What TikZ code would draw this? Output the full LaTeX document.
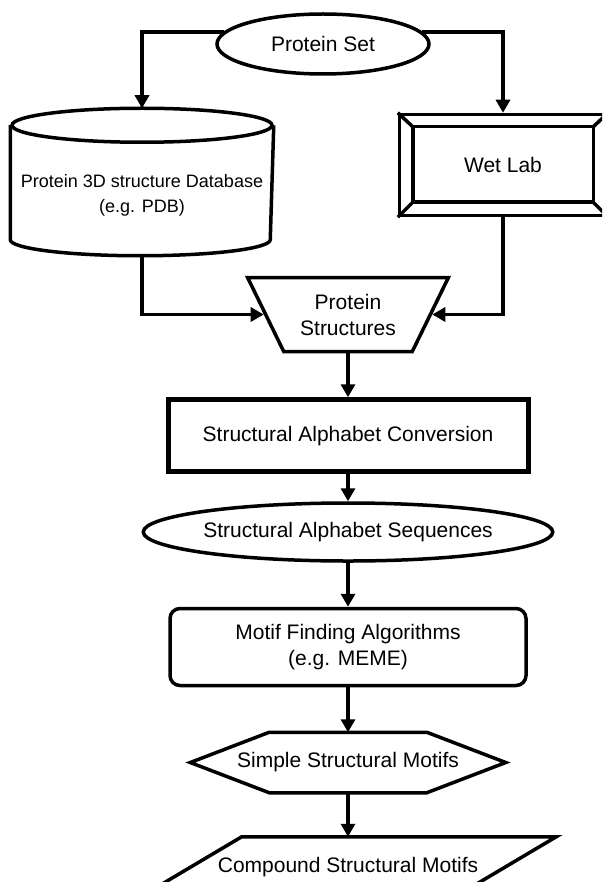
\documentclass[tikz,border=0pt]{standalone}
\usepackage{fontspec}
\setmainfont{Liberation Sans}
\usetikzlibrary{positioning,shapes.geometric,arrows.meta}

\begin{document}
\begin{tikzpicture}[x=1pt, y=-1pt, line width=3.5pt,
            >={Triangle[width=14pt,length=13pt]},
            main node/.style={draw, align=center, inner sep=0pt},
            plain node/.style={align=center, inner sep=0pt}]
            \tikzstyle{every node}=[font=\fontsize{21}{26}\selectfont]

            \useasboundingbox (0,0) rectangle (602,882);
            \clip (0,0) rectangle (602,882);

              \node[main node, ellipse, minimum width=212pt, minimum height=60pt] (set) at (323,44) {Protein Set};
              \node[plain node, minimum width=260pt, minimum height=117pt, font=\fontsize{18}{25}\selectfont] (db) at (142,195.5) {Protein 3D structure Database\\(e.g. PDB)};
              \node[main node, minimum width=207pt, minimum height=101pt] (lab) at (503,165) {Wet Lab};
              \node[main node, trapezium, trapezium angle=57, trapezium stretches=true, shape border rotate=180, minimum width=201pt, minimum height=74pt] (ps) at (348,314.5) {Protein\\Structures};
              \node[main node, line width=5pt, minimum width=360pt, minimum height=72pt] (sac) [below=44pt of ps] {Structural Alphabet Conversion};
              \node[main node, ellipse, minimum width=409pt, minimum height=58pt] (sas) [below=27pt of sac] {Structural Alphabet Sequences};
              \node[main node, rounded corners=10pt, minimum width=356pt, minimum height=77pt] (mf) [below=44pt of sas] {Motif Finding Algorithms\\(e.g. MEME)};
              \node[plain node, minimum width=312pt, minimum height=57pt] (sm) [below=45pt of mf] {Simple Structural Motifs};
              \node[plain node, minimum width=413pt, minimum height=57pt] (cs) [below=44pt of sm] {Compound Structural Motifs};
              \coordinate (dbtop) at ([yshift=27pt]db.north);

              % database cylinder
              \draw ([yshift=10pt]db.north west) -- ([yshift=16pt]db.south west)
                arc[start angle=180, end angle=360, x radius=130pt, y radius=16pt] -- ([yshift=10pt]db.north east);
              \draw ([yshift=10pt]db.north) ellipse[x radius=130pt, y radius=17pt];

              % wet lab frame
              \draw ([shift={(15pt,-14pt)}]lab.north west) rectangle ([shift={(-15pt,15pt)}]lab.south east);
              \draw (lab.north west) -- ++(15pt,-14pt);
              \draw (lab.north east) -- ++(-15pt,-14pt);
              \draw (lab.south west) -- ++(15pt,15pt);
              \draw (lab.south east) -- ++(-15pt,15pt);

              \draw (sm.west) -- ([xshift=79pt]sm.north west) -- ([xshift=-79pt]sm.north east) -- (sm.east)
                -- ([xshift=-79pt]sm.south east) -- ([xshift=79pt]sm.south west) -- cycle;
              \draw ([xshift=102pt]cs.north west) -- (cs.north east) -- ([xshift=-102pt]cs.south east) -- (cs.south west) -- cycle;

              \draw[->] (set.173) -| (dbtop);
              \draw[->] (set.7) -| (lab.north);
              \draw[->] (db.south) |- (ps);
              \draw[->] (lab.south) |- (ps);
              \draw[->] (ps.south) -- (sac.north);
              \draw[->] (sac.south) -- (sas.north);
              \draw[->] (sas.south) -- (mf.north);
              \draw[->] (mf.south) -- (sm.north);
              \draw[->] (sm.south) -- (cs.north);

            \end{tikzpicture}
\end{document}
